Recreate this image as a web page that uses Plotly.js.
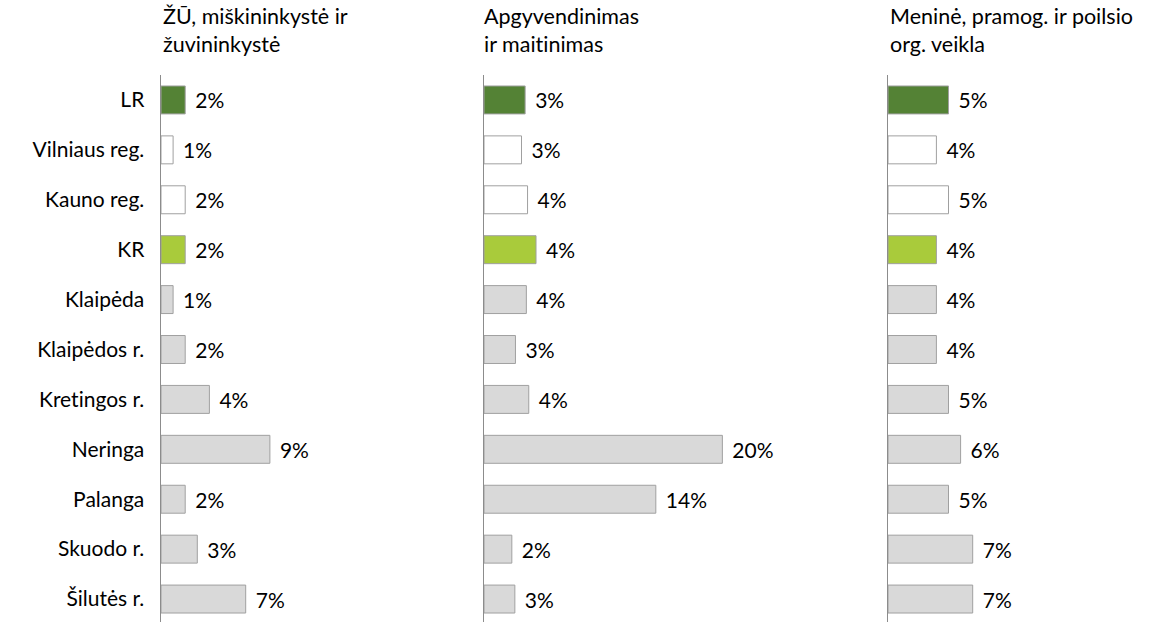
<!DOCTYPE html>
<html>
<head>
<meta charset="utf-8">
<script src="https://cdn.plot.ly/plotly-3.0.1.min.js"></script>
<style>
html,body{margin:0;padding:0;background:#fff;}
#chart{width:1153px;height:622px;}
#chart text{font-variant-ligatures:none;font-feature-settings:"liga" 0,"clig" 0;}
</style>
</head>
<body>
<div id="chart"></div>
<script>
const categories = ["LR", "Vilniaus reg.", "Kauno reg.", "KR", "Klaipėda", "Klaipėdos r.", "Kretingos r.", "Neringa", "Palanga", "Skuodo r.", "Šilutės r."];
const panelTitles = ["ŽŪ, miškininkystė ir<br>žuvininkystė", "Apgyvendinimas<br>ir maitinimas", "Meninė, pramog. ir poilsio<br>org. veikla"];
const agriculture = [2, 1, 2, 2, 1, 2, 4, 9, 2, 3, 7];
const accommodation = [3.4, 3.1, 3.6, 4.3, 3.5, 2.6, 3.7, 19.7, 14.2, 2.3, 2.55];
const arts = [5, 4, 5, 4, 4, 4, 5, 6, 5, 7, 7];
const barColors = ["#548235", "#ffffff", "#ffffff", "#a9cb3b", "#d9d9d9", "#d9d9d9", "#d9d9d9", "#d9d9d9", "#d9d9d9", "#d9d9d9", "#d9d9d9"];

const W = 1153;
const pxPerUnit = 12.1;
const panels = [
  {x0: 161, w: 250, vals: agriculture, titleX: 161},
  {x0: 484, w: 300, vals: accommodation, titleX: 482},
  {x0: 888, w: 250, vals: arts, titleX: 888}
];
const FONT = "Lato, 'Open Sans', sans-serif";
const LABEL_SIZE = 21;
const TITLE_SIZE = 21.5;

const data = panels.map((p, i) => ({
  type: 'bar',
  orientation: 'h',
  x: p.vals,
  y: categories,
  xaxis: i === 0 ? 'x' : 'x' + (i + 1),
  yaxis: i === 0 ? 'y' : 'y' + (i + 1),
  marker: {color: barColors, line: {color: '#a0a0a0', width: 1}},
  texttemplate: '\u2004%{x:.0f}%',
  textposition: 'outside',
  cliponaxis: false,
  constraintext: 'none',
  textfont: {family: FONT, size: LABEL_SIZE, color: '#000'},
  hoverinfo: 'skip',
  showlegend: false
}));

const layout = {
  width: W, height: 622,
  margin: {l: 0, r: 0, t: 75, b: 0},
  paper_bgcolor: '#fff', plot_bgcolor: '#fff',
  bargap: 0.44,
  font: {family: FONT, size: LABEL_SIZE, color: '#000'},
  annotations: [],
  showlegend: false
};

panels.forEach((p, i) => {
  const xk = i === 0 ? 'xaxis' : 'xaxis' + (i + 1);
  const yk = i === 0 ? 'yaxis' : 'yaxis' + (i + 1);
  const xr = i === 0 ? 'x' : 'x' + (i + 1);
  const yr = i === 0 ? 'y' : 'y' + (i + 1);
  layout[xk] = {
    domain: [p.x0 / W, (p.x0 + p.w) / W],
    range: [0, p.w / pxPerUnit],
    anchor: yr,
    showgrid: false, zeroline: false, showline: false, showticklabels: false, ticks: ''
  };
  layout[yk] = {
    type: 'category',
    categoryorder: 'array', categoryarray: categories,
    range: [10.46, -0.5],
    anchor: xr,
    showgrid: false, zeroline: false,
    showline: true, linecolor: '#8c8c8c', linewidth: 1.5,
    ticks: '',
    showticklabels: i === 0,
    ticklabelstandoff: 11,
    tickfont: {family: FONT, size: LABEL_SIZE, color: '#000'}
  };
  layout.annotations.push({
    text: panelTitles[i],
    xref: 'paper', yref: 'paper',
    x: p.titleX / W, y: 1 + 74 / 547,
    xanchor: 'left', yanchor: 'top', align: 'left',
    showarrow: false,
    font: {family: FONT, size: TITLE_SIZE, color: '#000'}
  });
});

Plotly.newPlot('chart', data, layout, {displayModeBar: false, staticPlot: true});
</script>
</body>
</html>
